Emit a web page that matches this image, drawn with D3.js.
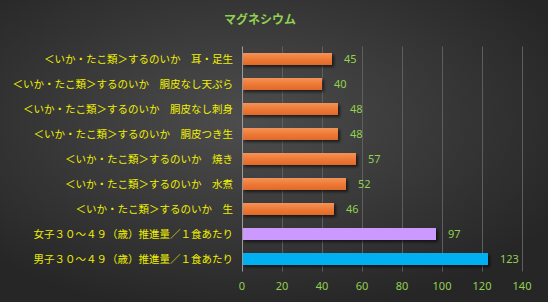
<!DOCTYPE html>
<html>
<head>
<meta charset="utf-8">
<script src="https://cdn.jsdelivr.net/npm/d3@7"></script>
<style>
  body { margin: 0; background: #333; }
  svg { display: block; }
</style>
</head>
<body>
<div id="chart"></div>
<script>
// data
var categories = [
  "＜いか・たこ類＞するのいか　耳・足生",
  "＜いか・たこ類＞するのいか　胴皮なし天ぷら",
  "＜いか・たこ類＞するのいか　胴皮なし刺身",
  "＜いか・たこ類＞するのいか　胴皮つき生",
  "＜いか・たこ類＞するのいか　焼き",
  "＜いか・たこ類＞するのいか　水煮",
  "＜いか・たこ類＞するのいか　生",
  "女子３０～４９（歳）推進量／１食あたり",
  "男子３０～４９（歳）推進量／１食あたり"
]
var values = [45, 40, 48, 48, 57, 52, 46, 97, 123]
var barKinds = ["food", "food", "food", "food", "food", "food", "food", "female", "male"]
var xTicks = [0, 20, 40, 60, 80, 100, 120, 140]
var title = "マグネシウム"

var W = 548, H = 302
var margin = {top: 46.5, right: 26, bottom: 30.5, left: 242}

var svg = d3.select("#chart")
  .append("svg")
    .attr("width", W)
    .attr("height", H)

var defs = svg.append("defs")

var bg = defs.append("radialGradient")
    .attr("id", "bg")
    .attr("cx", "45%").attr("cy", "40%").attr("r", "65%")
bg.append("stop").attr("offset", "0%").attr("stop-color", "#4d4d4d")
bg.append("stop").attr("offset", "100%").attr("stop-color", "#262626")

var og = defs.append("linearGradient")
    .attr("id", "orange")
    .attr("x1", 0).attr("y1", 0).attr("x2", 0).attr("y2", 1)
og.append("stop").attr("offset", "0%").attr("stop-color", "#f4935a")
og.append("stop").attr("offset", "50%").attr("stop-color", "#ee7a35")
og.append("stop").attr("offset", "100%").attr("stop-color", "#e0692a")

var sh = defs.append("filter").attr("id", "shadow")
    .attr("x", "-10%").attr("y", "-30%").attr("width", "130%").attr("height", "190%")
sh.append("feDropShadow")
    .attr("dx", 2).attr("dy", 2).attr("stdDeviation", 1.5)
    .attr("flood-color", "#000").attr("flood-opacity", 0.6)

svg.append("rect")
    .attr("width", W).attr("height", H)
    .attr("fill", "url(#bg)")

var colors = {food: "url(#orange)", female: "#cc99ff", male: "#00b0f0"}

var x = d3.scaleLinear()
    .domain([0, 140])
    .range([margin.left, W - margin.right])

var y = d3.scaleBand()
    .domain(categories)
    .range([margin.top, H - margin.bottom])
    .paddingInner(0.52)
    .paddingOuter(0.26)

// title
svg.append("text")
    .attr("x", 260)
    .attr("y", 24)
    .attr("text-anchor", "middle")
    .attr("fill", "#92d050")
    .style("font-family", "'Noto Sans CJK JP', sans-serif")
    .style("font-size", "12px")
    .style("font-weight", "bold")
    .text(title)

// gridlines
svg.append("g")
  .selectAll("line")
  .data(xTicks.slice(1))
  .enter()
  .append("line")
    .attr("x1", function(d){ return x(d) + 0.5 })
    .attr("x2", function(d){ return x(d) + 0.5 })
    .attr("y1", margin.top)
    .attr("y2", H - margin.bottom)
    .attr("stroke", "#5e5e5e")
    .attr("stroke-width", 1)

// bars
svg.append("g")
  .selectAll("rect")
  .data(values)
  .enter()
  .append("rect")
    .attr("x", x(0))
    .attr("y", function(d, i){ return y(categories[i]) })
    .attr("width", function(d){ return x(d) - x(0) })
    .attr("height", y.bandwidth())
    .attr("fill", function(d, i){ return colors[barKinds[i]] })
    .attr("filter", "url(#shadow)")

// value labels
svg.append("g")
  .selectAll("text")
  .data(values)
  .enter()
  .append("text")
    .attr("x", function(d){ return x(d) + 12 })
    .attr("y", function(d, i){ return y(categories[i]) + y.bandwidth() / 2 })
    .attr("dy", "0.36em")
    .attr("fill", "#92d050")
    .style("font-family", "'Noto Sans', sans-serif")
    .style("font-size", "11px")
    .text(function(d){ return d })

// axis line at zero
svg.append("line")
    .attr("x1", x(0) + 0.5).attr("x2", x(0) + 0.5)
    .attr("y1", margin.top).attr("y2", H - margin.bottom)
    .attr("stroke", "#9a9a9a")

// category labels
svg.append("g")
  .selectAll("text")
  .data(categories)
  .enter()
  .append("text")
    .attr("x", x(0) - 9)
    .attr("y", function(d){ return y(d) + y.bandwidth() / 2 })
    .attr("dy", "0.36em")
    .attr("text-anchor", "end")
    .attr("fill", "#f0f000")
    .style("font-family", "'Noto Sans CJK JP', sans-serif")
    .style("font-size", "10.5px")
    .text(function(d){ return d })

// x tick labels
svg.append("g")
  .selectAll("text")
  .data(xTicks)
  .enter()
  .append("text")
    .attr("x", function(d){ return x(d) })
    .attr("y", 290)
    .attr("text-anchor", "middle")
    .attr("fill", "#92d050")
    .style("font-family", "'Noto Sans', sans-serif")
    .style("font-size", "11px")
    .text(function(d){ return d })
</script>
</body>
</html>
